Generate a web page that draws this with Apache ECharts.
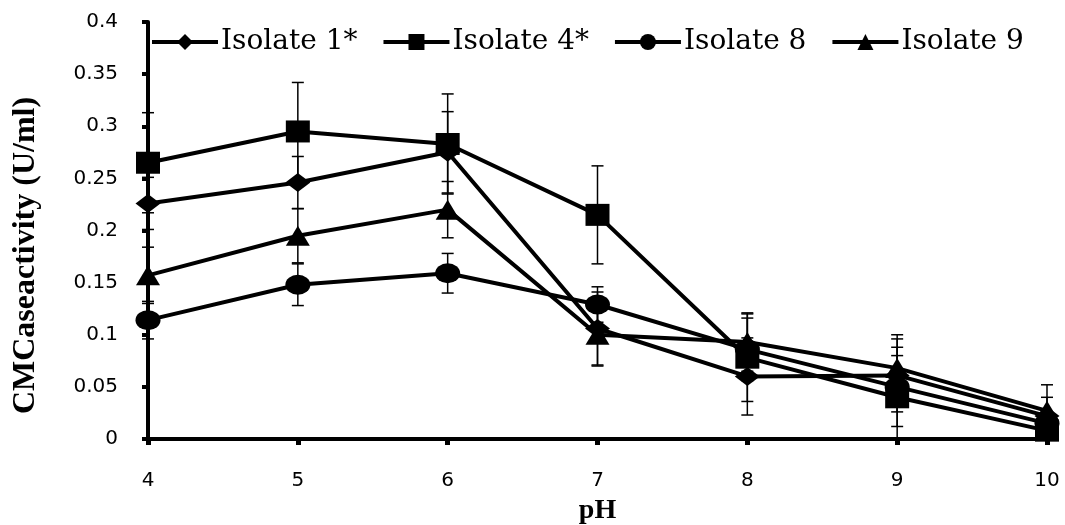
<!DOCTYPE html>
<html>
<head>
<meta charset="utf-8">
<script src="https://cdn.jsdelivr.net/npm/echarts@6/dist/echarts.min.js"></script>
<style>
  html, body { margin: 0; padding: 0; background: #fff; }
  #chart { width: 1065px; height: 525px; }
</style>
</head>
<body>
<div id="chart"></div>
<script>
// pH values on the x axis
const phLabels = ["4", "5", "6", "7", "8", "9", "10"];

// mean CMCase activity (U/ml)
const isolate1 = [0.226, 0.246, 0.275, 0.106, 0.06, 0.061, 0.022];
const isolate4 = [0.265, 0.295, 0.283, 0.215, 0.078, 0.04, 0.008];
const isolate8 = [0.114, 0.148, 0.159, 0.129, 0.086, 0.05, 0.015];
const isolate9 = [0.157, 0.195, 0.22, 0.1, 0.093, 0.068, 0.027];

// error bar half widths
const err1 = [0.025, 0.025, 0.039, 0.035, 0.037, 0.035, 0.018];
const err4 = [0.048, 0.047, 0.048, 0.047, 0.042, 0.04, 0.01];
const err8 = [0.018, 0.02, 0.019, 0.017, 0.03, 0.038, 0.01];
const err9 = [0.027, 0.026, 0.027, 0.03, 0.028, 0.032, 0.025];

const names = ["Isolate 1*", "Isolate 4*", "Isolate 8", "Isolate 9"];
const symbols = ["diamond", "rect", "circle", "triangle"];
const symbolSizes = [[25, 19], [24, 22], [25, 20], [24, 20]];
const means = [isolate1, isolate4, isolate8, isolate9];
const errs = [err1, err4, err8, err9];

const chart = echarts.init(document.getElementById("chart"));

function errorBar(params, api) {
  const x = api.value(0);
  const lo = api.coord([x, api.value(1)]);
  const hi = api.coord([x, api.value(2)]);
  const cap = 6;
  const style = { stroke: "#000", lineWidth: 1.5 };
  return {
    type: "group",
    children: [
      { type: "line", shape: { x1: lo[0], y1: lo[1], x2: hi[0], y2: hi[1] }, style: style },
      { type: "line", shape: { x1: lo[0] - cap, y1: lo[1], x2: lo[0] + cap, y2: lo[1] }, style: style },
      { type: "line", shape: { x1: hi[0] - cap, y1: hi[1], x2: hi[0] + cap, y2: hi[1] }, style: style },
    ],
  };
}

const series = [];
means.forEach((vals, i) => {
  series.push({
    type: "custom",
    name: names[i] + " err",
    renderItem: errorBar,
    data: vals.map((v, k) => [k, Math.max(0, v - errs[i][k]), v + errs[i][k]]),
    z: 3,
    silent: true,
  });
});
means.forEach((vals, i) => {
  series.push({
    type: "line",
    name: names[i],
    data: vals,
    symbol: symbols[i],
    symbolSize: symbolSizes[i],
    showAllSymbol: true,
    lineStyle: { color: "#000", width: 4 },
    itemStyle: { color: "#000" },
    z: 4,
  });
});

const option = {
  animation: false,
  grid: { left: 148, right: 18, top: 22, bottom: 86, containLabel: false, outerBoundsMode: "none" },
  legend: {
    data: names,
    left: 150,
    top: 28,
    padding: 0,
    itemWidth: 66,
    itemHeight: 20,
    itemGap: 24,
    lineStyle: { color: "#000", width: 4 },
    textStyle: { fontFamily: "DejaVu Serif", fontSize: 28, color: "#000", padding: [0, 0, 0, -2] },
  },
  xAxis: {
    type: "category",
    data: phLabels,
    boundaryGap: false,
    name: "pH",
    nameLocation: "middle",
    nameGap: 58,
    nameTextStyle: { fontFamily: "Liberation Serif", fontWeight: "bold", fontSize: 28, color: "#000" },
    axisLine: { lineStyle: { color: "#000", width: 4 } },
    axisTick: { alignWithLabel: true, length: 6, lineStyle: { color: "#000", width: 5 } },
    axisLabel: { margin: 32, fontFamily: "DejaVu Sans", fontSize: 20, color: "#000" },
    splitLine: { show: false },
  },
  yAxis: {
    type: "value",
    min: 0,
    max: 0.4,
    interval: 0.05,
    name: "CMCaseactivity (U/ml)",
    nameLocation: "middle",
    nameGap: 106,
    nameRotate: 90,
    nameTextStyle: {
      fontFamily: "Liberation Serif",
      fontWeight: "bold",
      fontSize: 32,
      color: "#000",
      padding: [0, 50, 0, 0],
    },
    axisLine: { show: true, lineStyle: { color: "#000", width: 4 } },
    axisTick: { show: true, length: 6, lineStyle: { color: "#000", width: 4 } },
    axisLabel: { margin: 30, fontFamily: "DejaVu Sans", fontSize: 20, color: "#000" },
    splitLine: { show: false },
  },
  series: series,
};
chart.setOption(option);
</script>
</body>
</html>
